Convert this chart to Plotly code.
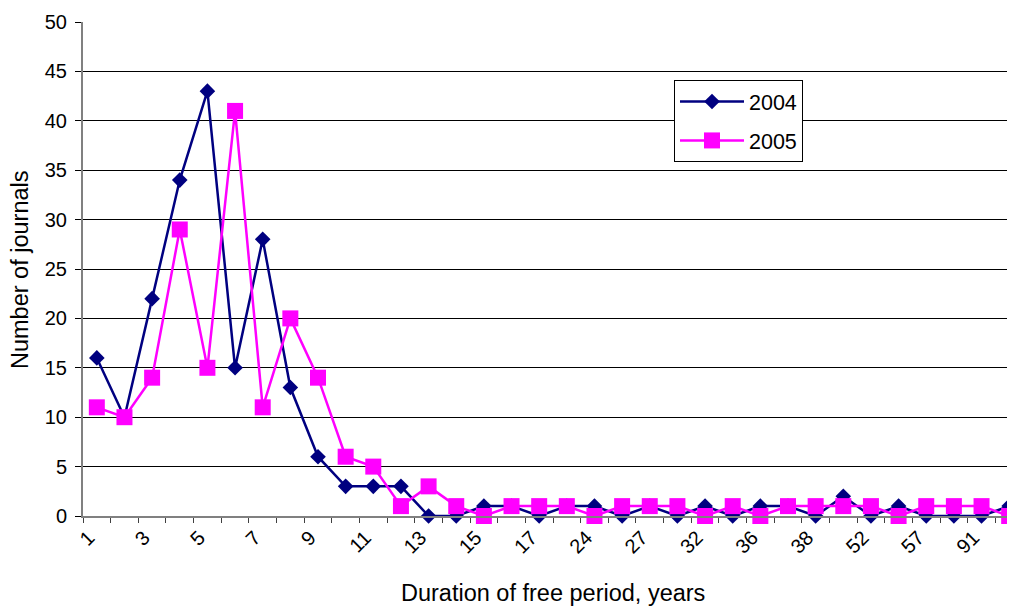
import plotly.graph_objects as go

# Duration of free period (years) - categories on the x axis
durations = ["1", "2", "3", "4", "5", "6", "7", "8", "9", "10", "11", "12", "13",
             "14", "15", "16", "17", "20", "24", "25", "27", "30", "32", "35",
             "36", "37", "38", "40", "52", "55", "57", "60", "91", "100"]
# Which labels are printed on the axis (every other one, as in the original)
shown_labels = ["1", "", "3", "", "5", "", "7", "", "9", "", "11", "", "13", "",
                "15", "", "17", "", "24", "", "27", "", "32", "", "36", "", "38",
                "", "52", "", "57", "", "91", ""]

journals_2004 = [16, 10, 22, 34, 43, 15, 28, 13, 6, 3, 3, 3, 0, 0, 1, 1, 0,
                 1, 1, 0, 1, 0, 1, 0, 1, 1, 0, 2, 0, 1, 0, 0, 0, 1]
journals_2005 = [11, 10, 14, 29, 15, 41, 11, 20, 14, 6, 5, 1, 3, 1, 0, 1, 1,
                 1, 0, 1, 1, 1, 0, 1, 0, 1, 1, 1, 1, 0, 1, 1, 1, 0]

FONT = "Liberation Sans, Arial, sans-serif"

# page body has an 8px default margin; the plot area in window pixels:
OFF = 8
plot_l, plot_r, plot_t, plot_b = 83, 1023, 22, 516


def px_to_paper(x, y):
    return (x - plot_l) / (plot_r - plot_l), (plot_b - y) / (plot_b - plot_t)


fig = go.Figure()
fig.add_trace(go.Scatter(
    x=durations, y=journals_2004, name="2004", mode="lines+markers",
    line=dict(color="#000080", width=2.5),
    marker=dict(symbol="diamond", size=12, color="#000080"),
    legendgroup="a", cliponaxis=False,
))
fig.add_trace(go.Scatter(
    x=durations, y=journals_2005, name="2005", mode="lines+markers",
    line=dict(color="#FF00FF", width=2.5),
    marker=dict(symbol="square", size=16, color="#FF00FF"),
    legendgroup="b", cliponaxis=False,
))

lx, ly = px_to_paper(674, 80)
tx, ty = px_to_paper(553, 593)
yx, yy = px_to_paper(20, 270)

fig.update_layout(
    width=1015, height=607,
    margin=dict(l=plot_l - OFF, r=1015 - (plot_r - OFF), t=plot_t - OFF,
                b=607 - (plot_b - OFF), autoexpand=False),
    paper_bgcolor="white", plot_bgcolor="white",
    font=dict(family=FONT, color="black", size=20),
    showlegend=True,
    legend=dict(
        x=lx, y=ly, xanchor="left", yanchor="top",
        bgcolor="white", bordercolor="black", borderwidth=1,
        font=dict(size=21.5, family=FONT), itemwidth=64,
        tracegroupgap=8,
    ),
    annotations=[
        dict(text="Duration of free period, years", x=tx, y=ty,
             xref="paper", yref="paper", showarrow=False,
             xanchor="center", yanchor="middle",
             font=dict(size=23.5)),
        dict(text="Number of journals", x=yx, y=yy, textangle=-90,
             xref="paper", yref="paper", showarrow=False,
             xanchor="center", yanchor="middle",
             font=dict(size=23.5)),
    ],
)

fig.update_xaxes(
    type="category", range=[-0.5, 33.5], automargin=False,
    tickmode="array", tickvals=durations, ticktext=shown_labels,
    tickson="boundaries", ticks="outside", ticklen=5, tickcolor="#404040",
    tickangle=-45, tickfont=dict(size=20), ticklabelshift=-8,
    showline=True, linecolor="#808080", linewidth=2,
    showgrid=False, zeroline=False,
)
fig.update_yaxes(
    range=[0, 50], dtick=5, tick0=0, automargin=False,
    ticks="outside", ticklen=6, tickcolor="black",
    tickfont=dict(size=20), ticklabelstandoff=4,
    showline=True, linecolor="#808080", linewidth=2,
    showgrid=True, gridcolor="black", gridwidth=1,
    zeroline=False,
)

fig.write_html("out.html")
